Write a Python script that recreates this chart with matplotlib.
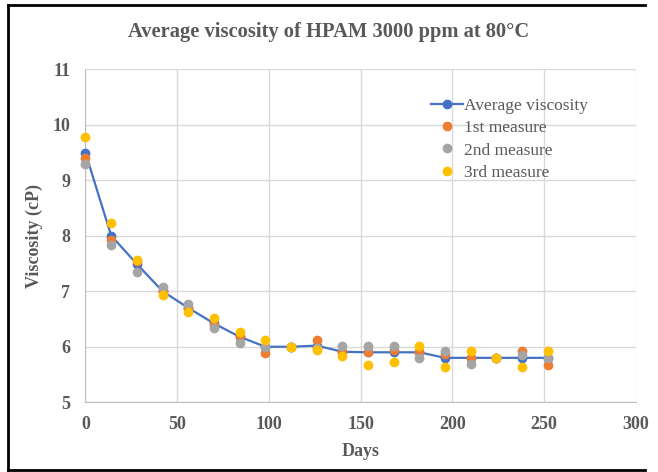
import matplotlib
matplotlib.use("Agg")
import matplotlib.pyplot as plt
from matplotlib.lines import Line2D

# Data
days = [0, 14, 28, 42, 56, 70, 84, 98, 112, 126, 140, 154, 168, 182, 196, 210, 224, 238, 252]
avg_visc = [9.49, 8.0, 7.49, 7.0, 6.7, 6.42, 6.18, 6.0, 6.0, 6.02, 5.91, 5.9, 5.9, 5.9, 5.8, 5.8, 5.8, 5.8, 5.8]
measure1 = [9.40, 7.93, 7.55, 7.01, 6.70, 6.40, 6.20, 5.88, 6.0, 6.12, 5.90, 5.90, 5.95, 5.90, 5.87, 5.80, 5.8, 5.92, 5.68]
measure2 = [9.29, 7.83, 7.34, 7.08, 6.77, 6.33, 6.07, 6.00, 6.0, 5.98, 6.02, 6.02, 6.02, 5.79, 5.92, 5.69, 5.8, 5.86, 5.80]
measure3 = [9.77, 8.23, 7.57, 6.93, 6.63, 6.52, 6.27, 6.12, 6.0, 5.95, 5.84, 5.67, 5.73, 6.02, 5.63, 5.93, 5.8, 5.63, 5.93]

x_ticks = [0, 50, 100, 150, 200, 250, 300]
y_ticks = [5, 6, 7, 8, 9, 10, 11]

txt = "#595959"
plt.rcParams["font.family"] = ["Liberation Serif", "DejaVu Serif"]

fig = plt.figure(figsize=(6.58, 4.72), dpi=100)
ax = fig.add_axes([0.1299, 0.1477, 0.8364, 0.7061])

ax.plot(days, avg_visc, color="#4472C4", lw=1.6, marker="o", ms=6, label="Average viscosity", zorder=3, clip_on=False)
ax.plot(days, measure1, ls="none", color="#ED7D31", marker="o", ms=6, label="1st measure", zorder=4, clip_on=False)
ax.plot(days, measure2, ls="none", color="#A5A5A5", marker="o", ms=6, label="2nd measure", zorder=5, clip_on=False)
ax.plot(days, measure3, ls="none", color="#FFC000", marker="o", ms=6, label="3rd measure", zorder=6, clip_on=False)

ax.set_xlim(0, 300)
ax.set_ylim(5, 11)
ax.set_xticks(x_ticks)
ax.set_yticks(y_ticks)
ax.grid(True, color="#d9d9d9", lw=1)
ax.set_axisbelow(True)
for s in ["top", "right"]:
    ax.spines[s].set_visible(False)
for s in ["left", "bottom"]:
    ax.spines[s].set_color("#bfbfbf")
ax.tick_params(length=0, colors=txt, labelsize=13)
ax.tick_params(axis="x", pad=10)
ax.tick_params(axis="y", pad=11)
for lab in ax.get_xticklabels() + ax.get_yticklabels():
    lab.set_fontweight("bold")

ax.set_xlabel("Days", fontsize=13, fontweight="bold", color=txt, labelpad=7)
ax.set_ylabel("Viscosity (cP)", fontsize=13, fontweight="bold", color=txt, labelpad=7)
fig.text(0.5, 0.932, "Average viscosity of HPAM 3000 ppm at 80°C", ha="center", va="center",
         fontsize=14.8, fontweight="bold", color=txt)

leg = ax.legend(loc="upper left", bbox_to_anchor=(0.6, 0.96), frameon=False, fontsize=12.5,
                handlelength=1.8, handletextpad=0.1, labelspacing=0.35, labelcolor=txt)

# black border (right side cropped in the reference)
bx0, bx1, by0, by1 = 0.0129, 0.980, 0.0042, 0.9894
for xs, ys in [([bx0, bx1], [by1, by1]), ([bx0, bx0], [by0, by1]), ([bx0, bx1], [by0, by0])]:
    fig.add_artist(Line2D(xs, ys, transform=fig.transFigure, color="black", lw=2))

fig.savefig("out.png", dpi=100)
